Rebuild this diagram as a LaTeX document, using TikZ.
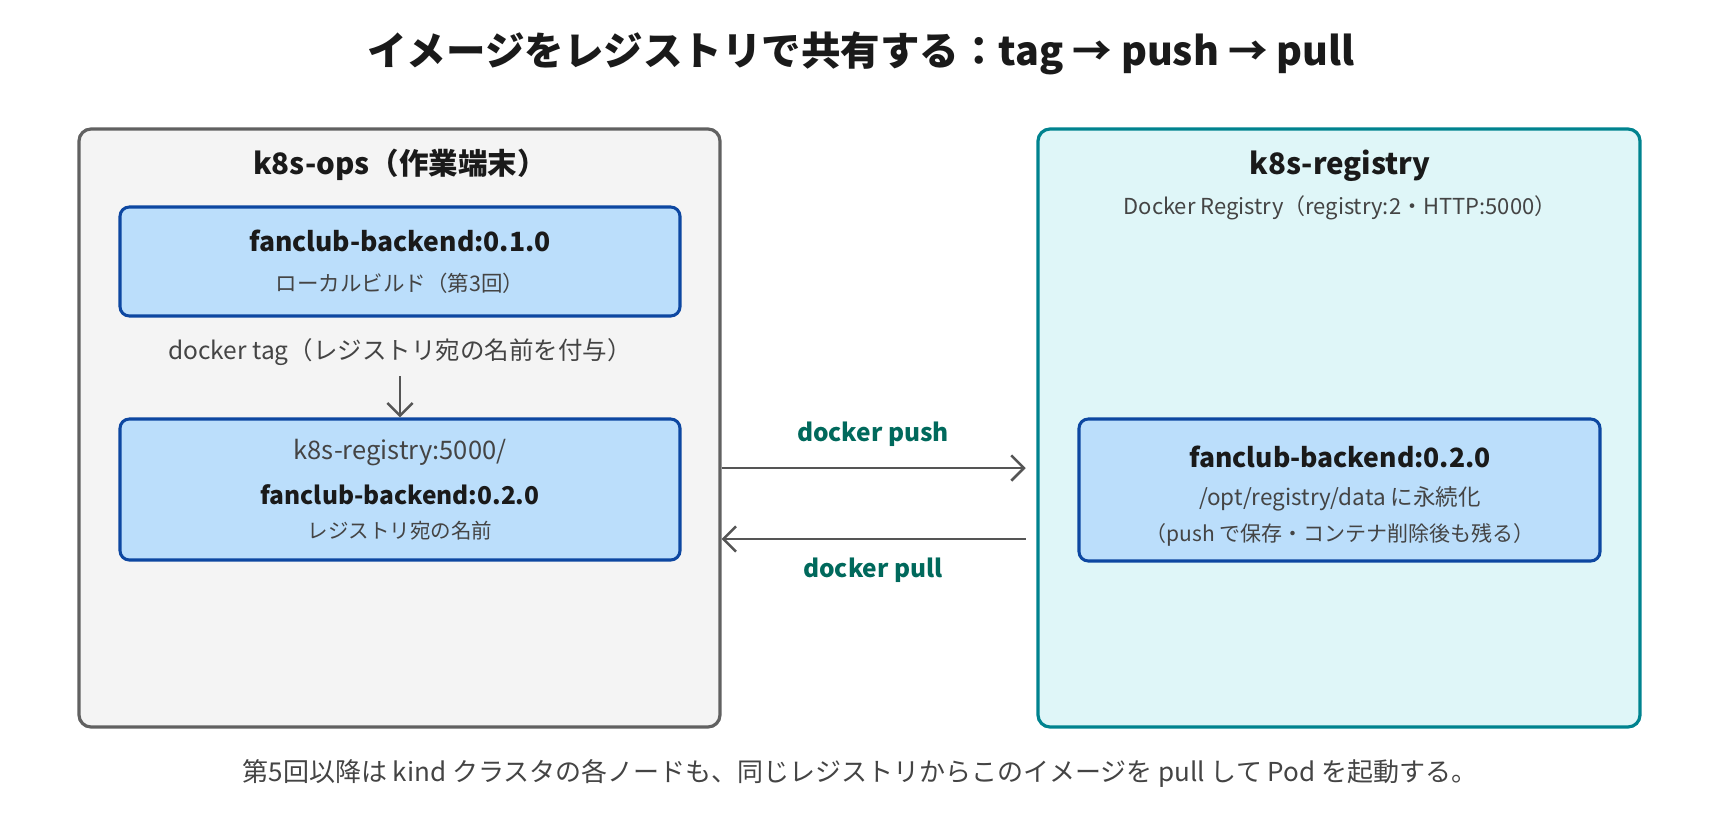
\documentclass[tikz,border=0pt]{standalone}
\usepackage{fontspec}
\setmainfont{Noto Sans CJK JP}
\usetikzlibrary{arrows.meta}
\definecolor{txt}{HTML}{1A1A1A}
\definecolor{subtxt}{HTML}{444444}
\definecolor{opsfill}{HTML}{F4F4F4}
\definecolor{opsline}{HTML}{616161}
\definecolor{regfill}{HTML}{DFF6F8}
\definecolor{regline}{HTML}{00838F}
\definecolor{imgfill}{HTML}{BBDEFB}
\definecolor{imgline}{HTML}{0D47A1}
\definecolor{arrcol}{HTML}{555555}
\definecolor{lblcol}{HTML}{00695C}
\newcommand{\pxfont}[1]{\fontsize{\dimexpr #1pt*3/4\relax}{\dimexpr #1pt*9/10\relax}\selectfont}
\tikzset{
  outerbox/.style={draw, line width=2.4pt, rounded corners=9pt, inner sep=0pt},
  imgbox/.style={draw=imgline, fill=imgfill, line width=2.3pt, rounded corners=7pt, inner sep=0pt},
  ttl/.style={font=\pxfont{39.5}\bfseries, text=txt, inner sep=0pt},
  boxttl/.style={font=\pxfont{29.5}\bfseries, text=txt, inner sep=0pt},
  imgttl/.style={font=\pxfont{26.5}\bfseries, text=txt, inner sep=0pt},
  subt/.style={font=\pxfont{21}, text=subtxt, inner sep=0pt},
  midt/.style={font=\pxfont{24.5}, text=subtxt, inner sep=0pt},
  lbl/.style={font=\pxfont{24.5}\bfseries, text=lblcol, inner sep=0pt},
  foot/.style={font=\pxfont{26}, text=subtxt, inner sep=0pt},
  arr/.style={draw=arrcol, line width=1.9pt, -{Straight Barb[length=9.5pt,width=19pt,line width=1.9pt]}},
}
\begin{document}
\begin{tikzpicture}[x=0.75pt, y=-0.75pt]
\useasboundingbox[fill=white] (0,0) rectangle (1720,824);
% title
\node[ttl] (title) at (861,53) {イメージをレジストリで共有する：tag → push → pull};
% outer boxes
\node[outerbox, draw=opsline, fill=opsfill, minimum width=641*0.75pt, minimum height=598*0.75pt] (ops) at (399.5,428) {};
\node[outerbox, draw=regline, fill=regfill, minimum width=602*0.75pt, minimum height=598*0.75pt] (reg) at (1339,428) {};
\node[boxttl] (opsttl) at (400,165) {k8s-ops（作業端末）};
\node[boxttl] (regttl) at (1340,166) {k8s-registry};
\node[subt, font=\pxfont{22}] (regsub) at (1340,208) {Docker Registry（registry:2・HTTP:5000）};
% left image boxes
\node[imgbox, minimum width=560*0.75pt, minimum height=109*0.75pt] (img1) at (400,261.5) {};
\node[imgttl] (img1t) at (400,241) {fanclub-backend:0.1.0};
\node[subt, font=\pxfont{21.5}] (img1s) at (400,283) {ローカルビルド（第3回）};
\node[midt] (tagt) at (400,352) {docker tag（レジストリ宛の名前を付与）};
\node[imgbox, minimum width=560*0.75pt, minimum height=141*0.75pt] (img2) at (400,489.5) {};
\node[midt, font=\pxfont{25.5}] (img2a) at (400,453) {k8s-registry:5000/};
\node[imgttl, font=\pxfont{24.5}\bfseries] (img2t) at (400,495) {fanclub-backend:0.2.0};
\node[subt, font=\pxfont{20.5}] (img2s) at (400,531) {レジストリ宛の名前};
\draw[arr, line width=1.7pt] ([yshift=-8pt]tagt.south) -- (img2.north);
% right image box
\node[imgbox, minimum width=521*0.75pt, minimum height=142*0.75pt] (img3) at (1339.5,490) {};
\node[imgttl] (img3t) at (1340,457) {fanclub-backend:0.2.0};
\node[subt, font=\pxfont{22.5}] (img3a) at (1340,499) {/opt/registry/data に永続化};
\node[subt] (img3s) at (1340,535) {（push で保存・コンテナ削除後も残る）};
% push / pull
\coordinate (pushy) at (0,468);
\coordinate (pully) at (0,539);
\draw[arr] (ops.east |- pushy) -- ([xshift=-8pt]reg.west |- pushy);
\draw[arr] ([xshift=-8pt]reg.west |- pully) -- (ops.east |- pully);
\node[lbl] (pushl) at (873,434) {docker push};
\node[lbl] (pulll) at (873,570) {docker pull};
% footer
\node[foot] (footer) at (860,773) {第5回以降は kind クラスタの各ノードも、同じレジストリからこのイメージを pull して Pod を起動する。};
\end{tikzpicture}
\end{document}
